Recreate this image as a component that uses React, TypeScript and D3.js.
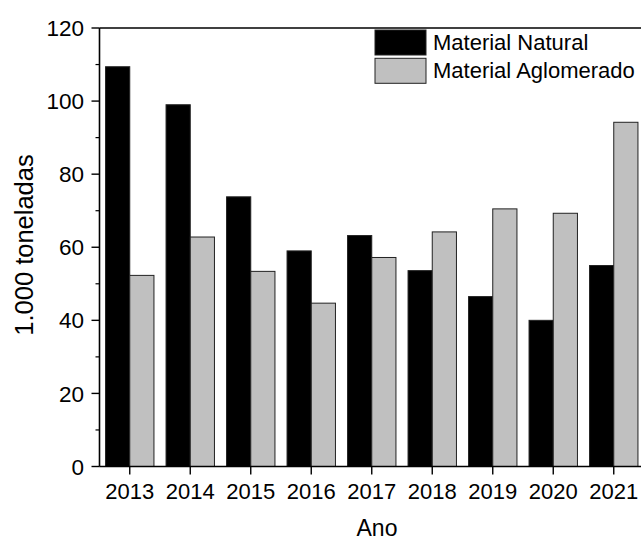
import { scaleBand, scaleLinear, range as d3range } from "d3";

const years = ["2013", "2014", "2015", "2016", "2017", "2018", "2019", "2020", "2021"];
const natural = [109.4, 99.0, 73.8, 59.0, 63.2, 53.6, 46.5, 40.0, 55.0];
const aglomerado = [52.3, 62.8, 53.4, 44.7, 57.2, 64.2, 70.5, 69.3, 94.2];
const seriesNames = ["Material Natural", "Material Aglomerado"];
const seriesColors = ["#000000", "#c0c0c0"];
const yTicks = [0, 20, 40, 60, 80, 100, 120];

const WIDTH = 641;
const HEIGHT = 540;
const PLOT = { left: 99.5, right: 644, top: 28, bottom: 466.5 };
const FONT = "'Liberation Sans', Arial, sans-serif";

export default function App() {
  const x = scaleBand<string>()
    .domain(years)
    .range([PLOT.left, PLOT.right])
    .paddingInner(0.2)
    .paddingOuter(0.1);
  const sub = scaleBand<number>().domain([0, 1]).range([0, x.bandwidth()]);
  const y = scaleLinear().domain([0, 120]).range([PLOT.bottom, PLOT.top]);
  const minor = d3range(10, 120, 20);
  const series = [natural, aglomerado];

  return (
    <svg
      width={WIDTH}
      height={HEIGHT}
      style={{ position: "absolute", left: 0, top: 0, background: "#fff" }}
      fontFamily={FONT}
    >
      {/* bars */}
      {years.map((yr, i) => (
        <g key={yr}>
          {series.map((s, k) => (
            <rect
              key={k}
              x={(x(yr) ?? 0) + (sub(k) ?? 0)}
              y={y(s[i])}
              width={sub.bandwidth()}
              height={PLOT.bottom - y(s[i])}
              fill={seriesColors[k]}
              stroke="#222"
              strokeWidth={1}
            />
          ))}
        </g>
      ))}

      {/* frame */}
      <line x1={PLOT.left} x2={PLOT.right} y1={PLOT.top} y2={PLOT.top} stroke="#000" strokeWidth={1.6} />
      <line x1={PLOT.left} x2={PLOT.right} y1={PLOT.bottom} y2={PLOT.bottom} stroke="#000" strokeWidth={1.6} />
      <line x1={PLOT.left} x2={PLOT.left} y1={PLOT.top} y2={PLOT.bottom} stroke="#000" strokeWidth={1.6} />

      {/* y axis */}
      {yTicks.map((t) => (
        <g key={t}>
          <line x1={PLOT.left - 8} x2={PLOT.left} y1={y(t)} y2={y(t)} stroke="#000" strokeWidth={1.4} />
          <text x={84} y={y(t)} dy="0.36em" textAnchor="end" fontSize={22.5} fill="#000">
            {t}
          </text>
        </g>
      ))}
      {minor.map((t) => (
        <line key={t} x1={PLOT.left - 4} x2={PLOT.left} y1={y(t)} y2={y(t)} stroke="#000" strokeWidth={1.2} />
      ))}

      {/* x axis */}
      {years.map((yr) => {
        const cx = (x(yr) ?? 0) + x.bandwidth() / 2;
        return (
          <g key={yr}>
            <line x1={cx} x2={cx} y1={PLOT.bottom} y2={PLOT.bottom + 8} stroke="#000" strokeWidth={1.4} />
            <text x={cx} y={499} textAnchor="middle" fontSize={22} fill="#000">
              {yr}
            </text>
          </g>
        );
      })}

      <text x={377} y={536} textAnchor="middle" fontSize={23} fill="#000">
        Ano
      </text>
      <text
        transform={`translate(33,245) rotate(-90)`}
        textAnchor="middle"
        fontSize={25.5}
        fill="#000"
      >
        1.000 toneladas
      </text>

      {/* legend */}
      {seriesNames.map((name, k) => (
        <g key={name} transform={`translate(375,${30 + k * 28.3})`}>
          <rect x={0} y={0} width={51} height={25} fill={seriesColors[k]} stroke="#222" strokeWidth={1} />
          <text x={58} y={20} fontSize={22} fill="#000">
            {name}
          </text>
        </g>
      ))}
    </svg>
  );
}
